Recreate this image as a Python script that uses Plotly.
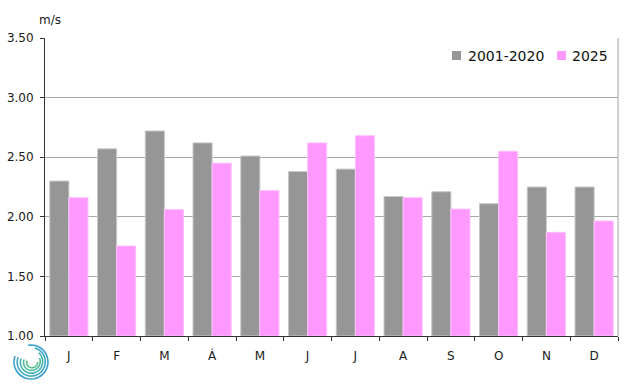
import math
import plotly.graph_objects as go

months = ["J", "F", "M", "Á", "M", "J", "J", "A", "S", "O", "N", "D"]
months_key = [f"{m}_{i}" for i, m in enumerate(months)]
avg_2001_2020 = [2.30, 2.57, 2.72, 2.62, 2.51, 2.38, 2.40, 2.17, 2.21, 2.11, 2.25, 2.25]
year_2025 = [2.16, 1.755, 2.06, 2.45, 2.22, 2.62, 2.68, 2.16, 2.065, 2.55, 1.87, 1.965]
y_ticks = [1.0, 1.5, 2.0, 2.5, 3.0, 3.5]
series_names = ["2001-2020", "2025"]
series_colors = ["#969696", "#ff99ff"]
edge_colors = ["#c8c8c8", "#ffc0ff"]

W, H = 640, 385
ML, MR, MT, MB = 45, 22, 38, 49

fig = go.Figure()
for name, vals, c, e in zip(series_names, [avg_2001_2020, year_2025], series_colors, edge_colors):
    fig.add_trace(go.Bar(x=months_key, y=[v - 1 for v in vals], base=1, name=name,
                         marker=dict(color=c, line=dict(color=e, width=1))))

font = "DejaVu Sans"

def px2paper(px, py):
    return (px - ML) / (W - ML - MR), (H - MB - py) / (H - MT - MB)

shapes = []
annotations = []

# logo approximation: spiral arcs
cx, cy = 31, 362
cols = ["#3a9fd0", "#3fa9c4", "#46b3b2", "#4fbb9e", "#58c08c"]
for k, r in enumerate([17, 14.5, 12, 9.5, 7]):
    a0, a1 = 100 - k * 25, -200
    pts = []
    n = 30
    for i in range(n + 1):
        a = math.radians(a0 + (a1 - a0) * i / n)
        rr = r - 3 * i / n * (k / 4)
        px, py = cx + rr * math.cos(a), cy - rr * math.sin(a)
        pts.append(px2paper(px, py))
    path = "M " + " L ".join(f"{x:.5f},{y:.5f}" for x, y in pts)
    shapes.append(dict(type="path", xref="paper", yref="paper", path=path,
                       line=dict(color=cols[k], width=1.6)))

# right border
shapes.append(dict(type="line", xref="paper", yref="paper", x0=1, x1=1, y0=0, y1=1,
                   line=dict(color="#a0a0a0", width=1)))

# custom legend
leg_items = [(452, 467), (557, 571)]
for (mx, tx), name, c in zip(leg_items, series_names, series_colors):
    x0, y0 = px2paper(mx, 60)
    x1, y1 = px2paper(mx + 9, 51)
    shapes.append(dict(type="rect", xref="paper", yref="paper", x0=x0, x1=x1, y0=y0, y1=y1,
                       fillcolor=c, line=dict(width=0)))
    tx_p, ty_p = px2paper(tx - 1, 56)
    annotations.append(dict(text=name, xref="paper", yref="paper", x=tx_p, y=ty_p,
                            xanchor="left", yanchor="middle", showarrow=False,
                            font=dict(size=14, color="#111")))

annotations.append(dict(text="m/s", xref="paper", yref="paper", x=-0.014, y=1.03,
                        xanchor="left", yanchor="bottom", showarrow=False,
                        font=dict(size=12, color="#1a1a1a")))

fig.update_layout(
    width=W, height=H,
    margin=dict(l=ML, r=MR, t=MT, b=MB, autoexpand=False),
    paper_bgcolor="white", plot_bgcolor="white",
    barmode="group", bargap=0.2, bargroupgap=0,
    font=dict(family=font, size=11, color="#1a1a1a"),
    showlegend=False,
    shapes=shapes,
    annotations=annotations,
)
fig.update_xaxes(
    type="category", tickmode="array", tickvals=months_key, ticktext=months,
    tickson="boundaries", ticks="outside", ticklen=4, tickcolor="#333",
    showline=True, linecolor="#333", linewidth=1, showgrid=False, automargin=False,
    tickfont=dict(size=12, color="#1a1a1a"), ticklabelstandoff=9,
)
fig.update_yaxes(
    range=[1, 3.5], tickvals=y_ticks, tickformat=".2f",
    ticks="outside", ticklen=4, tickcolor="#333",
    showline=True, linecolor="#333", linewidth=1, automargin=False,
    showgrid=True, gridcolor="#a8a8a8", gridwidth=1, zeroline=False,
    tickfont=dict(size=12, color="#1a1a1a"), ticklabelstandoff=4,
)

fig.write_html("out.html")
